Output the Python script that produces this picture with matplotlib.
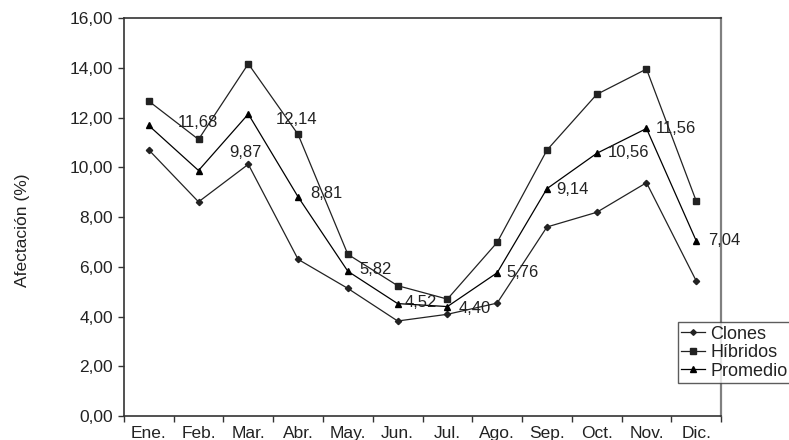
import matplotlib
matplotlib.use('Agg')
import matplotlib.pyplot as plt
from matplotlib.ticker import FuncFormatter, FixedLocator

# datos
meses = ['Ene.', 'Feb.', 'Mar.', 'Abr.', 'May.', 'Jun.', 'Jul.', 'Ago.', 'Sep.', 'Oct.', 'Nov.', 'Dic.']
clones = [10.70, 8.61, 10.12, 6.30, 5.13, 3.82, 4.09, 4.54, 7.60, 8.19, 9.38, 5.43]
hibridos = [12.66, 11.12, 14.16, 11.32, 6.50, 5.24, 4.70, 6.98, 10.69, 12.93, 13.95, 8.64]
promedio = [11.68, 9.87, 12.14, 8.81, 5.82, 4.52, 4.40, 5.76, 9.14, 10.56, 11.56, 7.04]

# desplazamiento de las etiquetas (px)
lab_off = [(29, 3), (31, 18), (27, -5), (12, 3), (12, 2), (7, 1),
           (11, -2), (9, 0), (9, -1), (11, 1), (9, 0), (12, 0)]

plt.rcParams['font.family'] = ['Liberation Sans', 'DejaVu Sans']
ink = '#222222'

fig = plt.figure(figsize=(7.89, 4.40), dpi=100)
ax = fig.add_axes([0.157, 0.0545, 0.757, 0.9045])

x = list(range(len(meses)))
l1, = ax.plot(x, clones, color=ink, lw=0.9, marker='D', ms=3.2, label='Clones')
l2, = ax.plot(x, hibridos, color=ink, lw=0.9, marker='s', ms=4.2, label='Híbridos')
l3, = ax.plot(x, promedio, color='black', lw=0.9, marker='^', ms=5, label='Promedio')

for i, v in enumerate(promedio):
    ax.annotate(f'{v:.2f}'.replace('.', ','), (i, v), xytext=lab_off[i],
                textcoords='offset pixels', ha='left', va='center',
                fontsize=12, color=ink)

ax.set_xlim(-0.5, 11.5)
ax.set_ylim(0, 16)
ax.set_yticks(range(0, 17, 2))
ax.yaxis.set_major_formatter(FuncFormatter(lambda v, p: f'{v:.2f}'.replace('.', ',')))
ax.set_xticks(x)
ax.set_xticklabels(meses)
ax.xaxis.set_minor_locator(FixedLocator([i - 0.5 for i in range(13)]))
ax.tick_params(axis='x', which='major', length=0, pad=7, labelsize=12.5, colors=ink)
ax.tick_params(axis='x', which='minor', length=4, width=1, color='#333333')
ax.tick_params(axis='y', length=4, width=1, labelsize=12.5, colors=ink, pad=4, color='#333333')

ax.set_ylabel('Afectación (%)', fontsize=12.5, color=ink)
ax.yaxis.set_label_coords(-0.158, 0.467)

ax.spines['left'].set_color('#333333')
ax.spines['bottom'].set_color('#333333')
ax.spines['top'].set_color('#333333')
ax.spines['right'].set_color('#808080')
for s in ax.spines.values():
    s.set_linewidth(1.2)
ax.spines['right'].set_linewidth(1.6)

leg = fig.legend(handles=[l1, l2, l3], loc='upper left', bbox_to_anchor=(0.859, 0.268),
                 fontsize=13, frameon=True, fancybox=False, handlelength=1.3,
                 handletextpad=0.3, borderpad=0.2, labelspacing=0.08,
                 borderaxespad=0, markerscale=0.9)
leg.get_frame().set_edgecolor('#333333')
leg.get_frame().set_linewidth(1.0)
for t in leg.get_texts():
    t.set_color(ink)

fig.savefig('out.png', dpi=100)
